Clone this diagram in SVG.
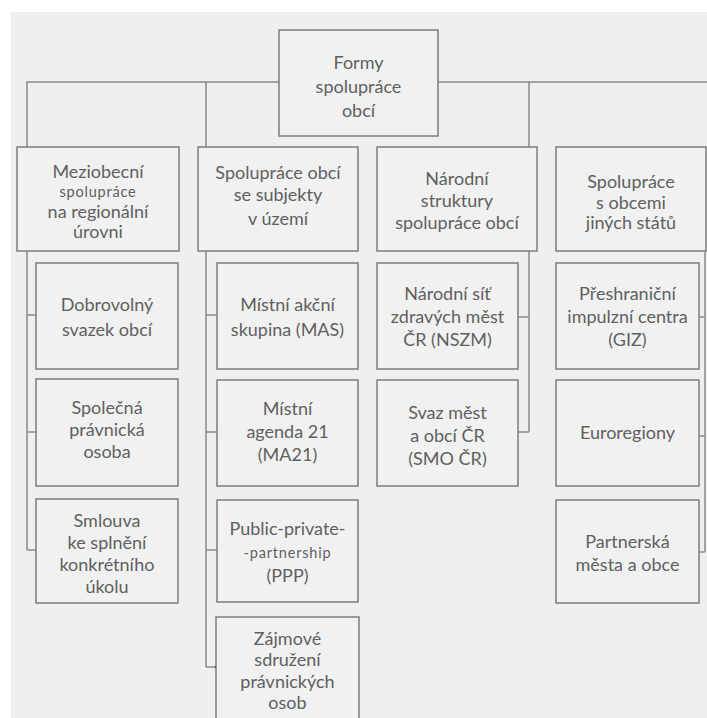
<svg xmlns="http://www.w3.org/2000/svg" width="707" height="718" viewBox="0 0 707 718">
<style>
.box{fill:#f1f1f1;stroke:#7d7d7d;stroke-width:1.5}
.t{font-family:Lato,"Open Sans","DejaVu Sans",sans-serif;font-size:18px;fill:#606060;text-anchor:middle}
.s{font-size:14.5px;letter-spacing:0.8px}
.ln{fill:none;stroke:#8a8a8a;stroke-width:1.5}
</style>
<defs>
<marker id="dot" viewBox="0 0 4 4" refX="2" refY="2" markerWidth="4" markerHeight="4" markerUnits="userSpaceOnUse"><circle cx="2" cy="2" r="1.6" fill="#3a3a8a"/></marker>
</defs>
<rect x="0" y="0" width="707" height="718" fill="#ffffff"/>
<rect x="11" y="12" width="696" height="706" fill="#efefef"/>

<g id="connectors">
<path class="ln" d="M27,147 V82 H279 M438,82 H707 M206,82 V147 M529,82 V147"/>
<path class="ln" d="M27,251 V550 M27,315 H36 M27,432 H36 M27,550 H36"/>
<path class="ln" d="M206,251 V667 M206,315 H217 M206,432 H217 M206,550 H217 M206,667 H216" marker-end="url(#dot)"/>
<path class="ln" d="M529,251 V432 M518,317 H529 M518,432 H529"/>
<path class="ln" d="M705,251 V552 M699,317 H705 M699,436 H705 M699,552 H705"/>
</g>

<g id="formy"><rect class="box" x="279" y="30" width="159" height="106"/>
<text class="t" x="358.5" y="69">Formy</text><text class="t" x="358.5" y="93">spolupráce</text><text class="t" x="358.5" y="117">obcí</text></g>

<g id="meziobecni"><rect class="box" x="17" y="147" width="162" height="104"/>
<text class="t" x="98" y="178">Meziobecní</text><text class="t s" x="98" y="197">spolupráce</text><text class="t" x="98" y="218">na regionální</text><text class="t" x="98" y="238">úrovni</text></g>

<g id="subjekty"><rect class="box" x="198" y="147" width="160" height="104"/>
<text class="t" x="278" y="179">Spolupráce obcí</text><text class="t" x="278" y="201">se subjekty</text><text class="t" x="278" y="225">v území</text></g>

<g id="narodni"><rect class="box" x="377" y="147" width="160" height="104"/>
<text class="t" x="457" y="185">Národní</text><text class="t" x="457" y="207">struktury</text><text class="t" x="457" y="229">spolupráce obcí</text></g>

<g id="zahranici"><rect class="box" x="556" y="147" width="150" height="104"/>
<text class="t" x="631" y="188">Spolupráce</text><text class="t" x="631" y="209">s obcemi</text><text class="t" x="631" y="229">jiných států</text></g>

<g id="dso"><rect class="box" x="36" y="263" width="142" height="106"/>
<text class="t" x="107" y="311">Dobrovolný</text><text class="t" x="107" y="336">svazek obcí</text></g>
<g id="spp"><rect class="box" x="36" y="379" width="142" height="107"/>
<text class="t" x="107" y="414">Společná</text><text class="t" x="107" y="436">právnická</text><text class="t" x="107" y="458">osoba</text></g>
<g id="smlouva"><rect class="box" x="36" y="499" width="142" height="104"/>
<text class="t" x="107" y="527">Smlouva</text><text class="t" x="107" y="549">ke splnění</text><text class="t" x="107" y="571">konkrétního</text><text class="t" x="107" y="593">úkolu</text></g>

<g id="mas"><rect class="box" x="217" y="263" width="141" height="106"/>
<text class="t" x="287.5" y="311">Místní akční</text><text class="t" x="287.5" y="336">skupina (MAS)</text></g>
<g id="ma21"><rect class="box" x="217" y="380" width="141" height="106"/>
<text class="t" x="287.5" y="415">Místní</text><text class="t" x="287.5" y="438">agenda 21</text><text class="t" x="287.5" y="461">(MA21)</text></g>
<g id="ppp"><rect class="box" x="217" y="500" width="141" height="102"/>
<text class="t" x="287.5" y="535">Public-private-</text><text class="t s" x="287.5" y="558">-partnership</text><text class="t" x="287.5" y="582">(PPP)</text></g>
<g id="zajmove"><rect class="box" x="216" y="617" width="143" height="110"/>
<text class="t" x="287.5" y="645">Zájmové</text><text class="t" x="287.5" y="666">sdružení</text><text class="t" x="287.5" y="688">právnických</text><text class="t" x="287.5" y="709">osob</text></g>

<g id="nszm"><rect class="box" x="377" y="263" width="141" height="106"/>
<text class="t" x="447.5" y="300">Národní síť</text><text class="t" x="447.5" y="323">zdravých měst</text><text class="t" x="447.5" y="346">ČR (NSZM)</text></g>
<g id="smo"><rect class="box" x="377" y="380" width="141" height="106"/>
<text class="t" x="447.5" y="419">Svaz měst</text><text class="t" x="447.5" y="442">a obcí ČR</text><text class="t" x="447.5" y="465">(SMO ČR)</text></g>

<g id="giz"><rect class="box" x="556" y="263" width="143" height="106"/>
<text class="t" x="627.5" y="300">Přeshraniční</text><text class="t" x="627.5" y="323">impulzní centra</text><text class="t" x="627.5" y="346">(GIZ)</text></g>
<g id="euroregiony"><rect class="box" x="556" y="380" width="143" height="106"/>
<text class="t" x="627.5" y="439">Euroregiony</text></g>
<g id="partnerska"><rect class="box" x="556" y="500" width="143" height="103"/>
<text class="t" x="627.5" y="548">Partnerská</text><text class="t" x="627.5" y="571">města a obce</text></g>
</svg>
